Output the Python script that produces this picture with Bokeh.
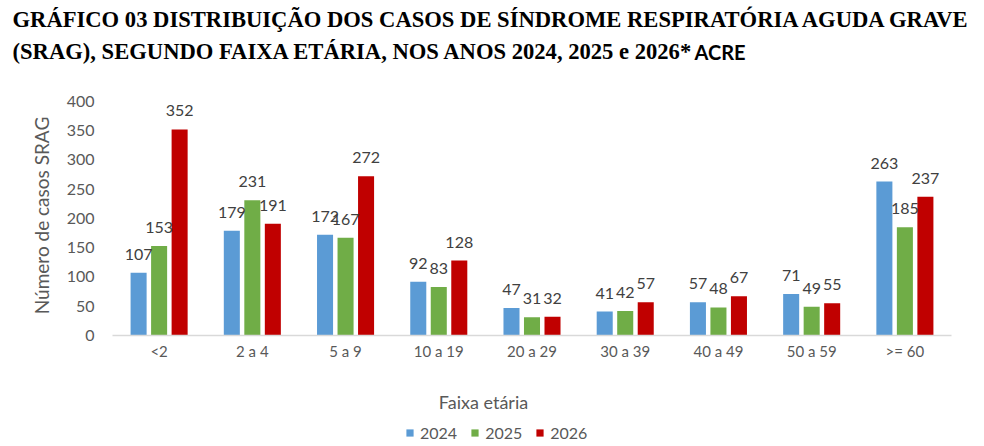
from bokeh.plotting import figure
from bokeh.layouts import column
from bokeh.models import ColumnDataSource, LabelSet, Label, Legend, LegendItem, FactorRange
from bokeh.core.properties import value
from bokeh.transform import dodge
from bokeh.embed import file_html
from bokeh.resources import INLINE

categories = ["<2", "2 a 4", "5 a 9", "10 a 19", "20 a 29", "30 a 39", "40 a 49", "50 a 59", ">= 60"]
v2024 = [107, 179, 172, 92, 47, 41, 57, 71, 263]
v2025 = [153, 231, 167, 83, 31, 42, 48, 49, 185]
v2026 = [352, 191, 272, 128, 32, 57, 67, 55, 237]
years = ["2024", "2025", "2026"]
colors = ["#5B9BD5", "#70AD47", "#C00000"]
yticks = [0, 50, 100, 150, 200, 250, 300, 350, 400]
title_line1 = "GRÁFICO  03 DISTRIBUIÇÃO DOS CASOS DE SÍNDROME RESPIRATÓRIA AGUDA GRAVE"
title_line2 = "(SRAG), SEGUNDO FAIXA ETÁRIA, NOS ANOS 2024, 2025 e 2026*"
title_tail = "ACRE"
x_title = "Faixa etária"
y_title = "Número de casos SRAG"

src = ColumnDataSource(dict(cat=categories, y2024=v2024, y2025=v2025, y2026=v2026,
                            l2024=[str(v) for v in v2024], l2025=[str(v) for v in v2025],
                            l2026=[str(v) for v in v2026]))

FONT = "Lato"
GREY = "#595959"

# ---- title strip ----
top = figure(width=984, height=85, x_range=(0, 1), y_range=(0, 1),
             x_axis_type=None, y_axis_type=None, output_backend="svg", toolbar_location=None,
             min_border=0, min_border_left=0, min_border_right=0, min_border_top=0, min_border_bottom=0,
             frame_align=False)
top.outline_line_color = None
top.background_fill_color = "white"
top.border_fill_color = "white"
top.grid.grid_line_color = None
for txt, yy in [(title_line1, 66), (title_line2, 34)]:
    top.add_layout(Label(x=12, y=yy, x_units="screen", y_units="screen", text=txt,
                         text_font="Liberation Serif", text_font_style="bold", text_font_size="22.6px",
                         text_color="#000000", text_baseline="alphabetic"))
top.add_layout(Label(x=694, y=34, x_units="screen", y_units="screen", text=title_tail,
                     text_font="Lato", text_font_style="bold", text_font_size="20px",
                     text_color="#000000", text_baseline="alphabetic"))

# ---- main chart ----
p = figure(x_range=FactorRange(*categories, range_padding=0), y_range=(0, 410),
           width=984, height=290, output_backend="svg", toolbar_location=None,
           min_border_left=112, min_border_right=33, min_border_top=10, min_border_bottom=40,
           frame_align=False)
p.outline_line_color = None
p.background_fill_color = "white"
p.border_fill_color = "white"
p.xgrid.grid_line_color = None
p.ygrid.grid_line_color = None

offsets = [-0.22, 0.0, 0.22]
for yr, col, off in zip(years, colors, offsets):
    p.vbar(x=dodge("cat", off, range=p.x_range), top="y" + yr, width=0.172, source=src,
           fill_color=col, line_color=None)
    p.add_layout(LabelSet(x=dodge("cat", off, range=p.x_range), y="y" + yr, text="l" + yr, source=src,
                          text_align="center", text_baseline="bottom", y_offset=13,
                          text_font=value(FONT), text_font_size=value("16px"),
                          text_color=value("#404040")))

p.yaxis.ticker = yticks
p.yaxis.axis_line_color = None
p.yaxis.major_tick_line_color = None
p.yaxis.major_tick_out = 0
p.yaxis.minor_tick_line_color = None
p.yaxis.major_label_text_font = FONT
p.yaxis.major_label_text_font_size = "16px"
p.yaxis.major_label_text_color = GREY
p.yaxis.major_label_standoff = 18
p.yaxis.axis_label = y_title
p.yaxis.axis_label_text_font = FONT
p.yaxis.axis_label_text_font_size = "19px"
p.yaxis.axis_label_text_font_style = "normal"
p.yaxis.axis_label_text_color = GREY
p.yaxis.axis_label_standoff = 11

p.xaxis.axis_line_color = "#D9D9D9"
p.xaxis.axis_line_width = 1.5
p.xaxis.major_tick_line_color = None
p.xaxis.major_tick_out = 0
p.xaxis.minor_tick_line_color = None
p.xaxis.major_label_text_font = FONT
p.xaxis.major_label_text_font_size = "15px"
p.xaxis.major_label_text_color = GREY
p.xaxis.major_label_standoff = 6

# ---- axis title + legend strip ----
bot = figure(width=984, height=71, x_range=FactorRange(*categories), y_range=(1000, 1001),
             x_axis_type=None, y_axis_type=None, output_backend="svg", toolbar_location=None,
             min_border=0, min_border_left=0, min_border_right=0, min_border_top=0, min_border_bottom=0,
             frame_align=False)
bot.outline_line_color = None
bot.background_fill_color = "white"
bot.border_fill_color = "white"
bot.grid.grid_line_color = None
leg_renderers = []
for yr, col in zip(years, colors):
    leg_renderers.append(bot.vbar(x="cat", top="y" + yr, width=0.2, source=src,
                                  fill_color=col, line_color=None))
bot.add_layout(Label(x=483, y=45, x_units="screen", y_units="screen", text=x_title,
                     text_font=FONT, text_font_size="18px", text_color=GREY,
                     text_align="center", text_baseline="middle"))
legend = Legend(items=[LegendItem(label=y, renderers=[r]) for y, r in zip(years, leg_renderers)],
                orientation="horizontal", location=(405, 4), border_line_color=None,
                background_fill_alpha=0, label_text_font=FONT, label_text_font_size="16px",
                label_text_color=GREY, glyph_width=9, glyph_height=9, spacing=13,
                label_standoff=6, padding=0, margin=0)
bot.add_layout(legend, "center")

layout = column(top, p, bot, spacing=0)
open("out.html", "w").write(file_html(layout, INLINE))
